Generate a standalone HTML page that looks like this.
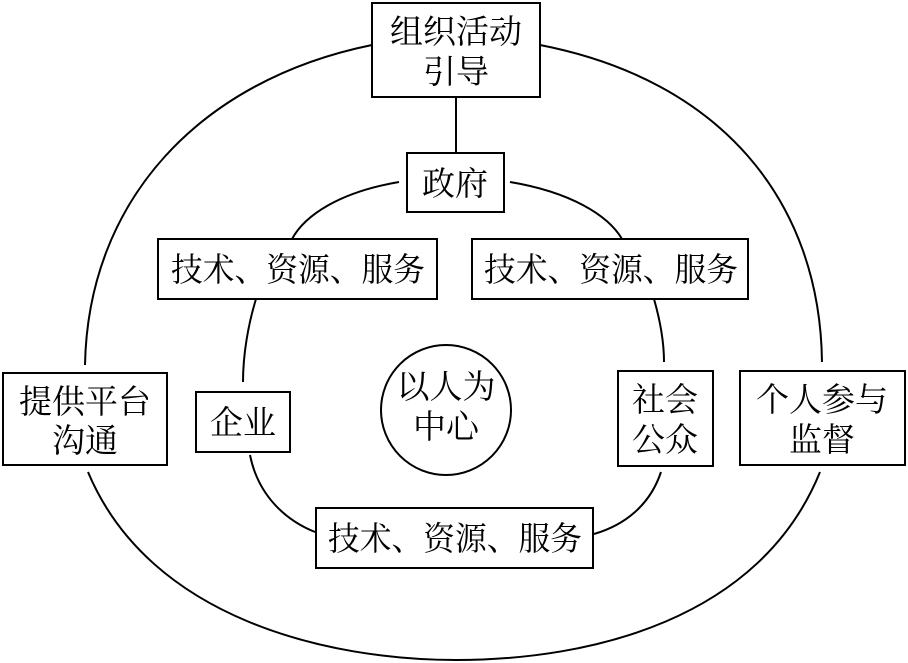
<!DOCTYPE html>
<html><head><meta charset="utf-8"><style>
html,body{margin:0;padding:0;background:#fff;}
svg{display:block}
text{font-family:"Liberation Serif","Noto Serif CJK SC","Noto Sans CJK SC",serif;font-size:33px;fill:#000;text-anchor:middle;}
</style></head><body>
<svg width="908" height="663" viewBox="0 0 908 663">
<g fill="none" stroke="#000" stroke-width="2">
<path d="M372,45 C200,80 88,200 85,365"/>
<path d="M540,45 C720,80 820,200 822,362"/>
<path d="M88,472 C150,620 330,660 456,660 C590,660 760,620 820,472"/>
<line x1="456" y1="97" x2="456" y2="153"/>
<path d="M399,182 C340,192 305,215 292,239"/>
<path d="M256,299 C248,325 243,355 243,382"/>
<path d="M250,455 C258,495 285,520 315,532"/>
<path d="M510,182 C570,192 608,215 622,239"/>
<path d="M654,299 C660,320 664,340 664,362"/>
<path d="M661,472 C650,505 625,525 594,534"/>
<rect x="372" y="3" width="168" height="94"/>
<rect x="407" y="153" width="97" height="59"/>
<rect x="158" y="239" width="279" height="60"/>
<rect x="472" y="239" width="276" height="60"/>
<rect x="196" y="392" width="94" height="60"/>
<rect x="618" y="371" width="95" height="95"/>
<rect x="3" y="373" width="164" height="92"/>
<rect x="740" y="371" width="165" height="94"/>
<rect x="316" y="508" width="277" height="60"/>
<circle cx="446" cy="410" r="65"/>
</g>
<text x="456" y="43">组织活动</text>
<text x="456" y="83">引导</text>
<text x="455" y="195">政府</text>
<text x="298" y="281" textLength="254" lengthAdjust="spacingAndGlyphs">技术、资源、服务</text>
<text x="611" y="281" textLength="254" lengthAdjust="spacingAndGlyphs">技术、资源、服务</text>
<text x="243" y="434">企业</text>
<text x="665" y="411">社会</text>
<text x="665" y="451">公众</text>
<text x="85" y="413">提供平台</text>
<text x="85" y="452">沟通</text>
<text x="822" y="411">个人参与</text>
<text x="822" y="451">监督</text>
<text x="455" y="550" textLength="254" lengthAdjust="spacingAndGlyphs">技术、资源、服务</text>
<text x="446" y="398">以人为</text>
<text x="446" y="438">中心</text>
</svg>
</body></html>
